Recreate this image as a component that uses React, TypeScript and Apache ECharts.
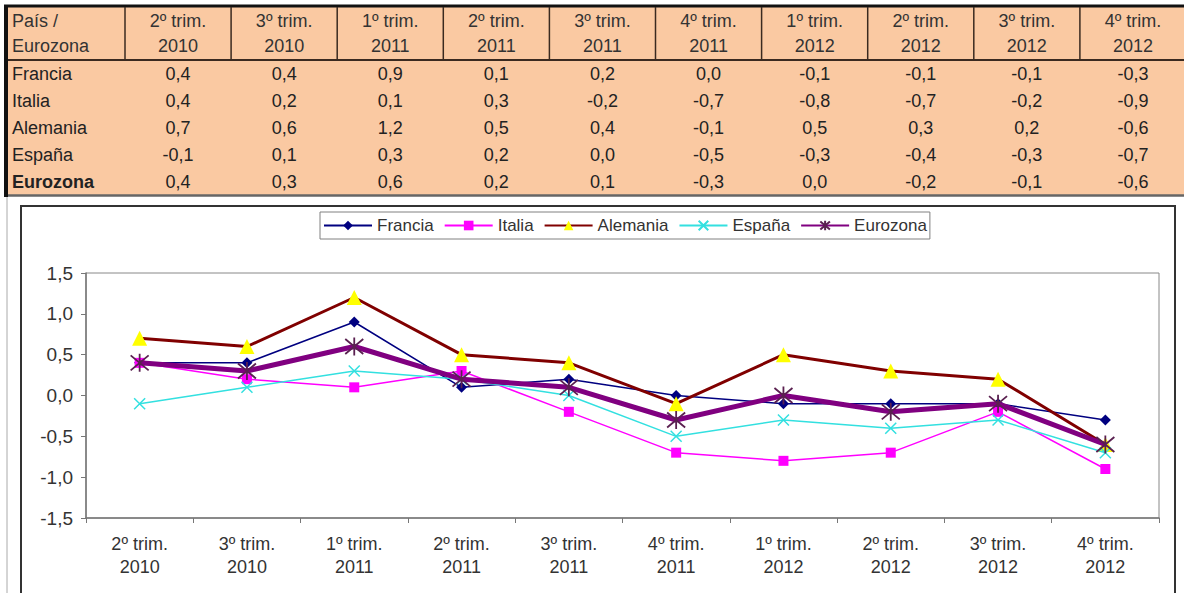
import React, { useEffect, useRef } from "react";
import * as echarts from "echarts";

const categories = [
  "2º trim.\n2010", "3º trim.\n2010", "1º trim.\n2011", "2º trim.\n2011", "3º trim.\n2011",
  "4º trim.\n2011", "1º trim.\n2012", "2º trim.\n2012", "3º trim.\n2012", "4º trim.\n2012",
];
const tableCorner = "País /\nEurozona";
const seriesNames = ["Francia", "Italia", "Alemania", "España", "Eurozona"];
const francia = [0.4, 0.4, 0.9, 0.1, 0.2, 0.0, -0.1, -0.1, -0.1, -0.3];
const italia = [0.4, 0.2, 0.1, 0.3, -0.2, -0.7, -0.8, -0.7, -0.2, -0.9];
const alemania = [0.7, 0.6, 1.2, 0.5, 0.4, -0.1, 0.5, 0.3, 0.2, -0.6];
const espana = [-0.1, 0.1, 0.3, 0.2, 0.0, -0.5, -0.3, -0.4, -0.3, -0.7];
const eurozona = [0.4, 0.3, 0.6, 0.2, 0.1, -0.3, 0.0, -0.2, -0.1, -0.6];
const yTicks = { min: -1.5, max: 1.5, interval: 0.5 };

const FONT = '"Liberation Sans", Arial, sans-serif';
const fmt = (v: number) => v.toFixed(1).replace(".", ",");

export default function App() {
  const ref = useRef<HTMLDivElement>(null);
  useEffect(() => {
    document.body.style.margin = "0";
    const chart = echarts.init(ref.current!, null, { renderer: "svg" });
    const allData = [francia, italia, alemania, espana, eurozona];

    // table graphic
    const colLeft = 125;
    const colW = 106.1;
    const rowY = [74, 101, 128, 155, 182];
    const g: any[] = [];
    g.push({ type: "rect", shape: { x: 8, y: 7, width: 1176, height: 189 }, style: { fill: "#FAC9A2" }, silent: true });
    g.push({ type: "line", shape: { x1: 4, y1: 6, x2: 1184, y2: 6 }, style: { stroke: "#111", lineWidth: 3 } });
    g.push({ type: "line", shape: { x1: 6, y1: 5, x2: 6, y2: 197 }, style: { stroke: "#111", lineWidth: 4 } });
    g.push({ type: "line", shape: { x1: 8, y1: 60, x2: 1184, y2: 60 }, style: { stroke: "#3a2a20", lineWidth: 2 } });
    g.push({ type: "line", shape: { x1: 8, y1: 195.5, x2: 1184, y2: 195.5 }, style: { stroke: "#666", lineWidth: 2.5 } });
    for (let k = 0; k < categories.length; k++) {
      const x = colLeft + colW * k;
      g.push({ type: "line", shape: { x1: x, y1: 7, x2: x, y2: 60 }, style: { stroke: "#3a2a20", lineWidth: 1.5 } });
      const [l1, l2] = categories[k].split("\n");
      const cx = x + colW / 2;
      g.push({ type: "text", x: cx, y: 21, style: { text: l1, fontSize: 18, fontFamily: FONT, fill: "#333", align: "center", verticalAlign: "middle" } });
      g.push({ type: "text", x: cx, y: 46, style: { text: l2, fontSize: 18, fontFamily: FONT, fill: "#333", align: "center", verticalAlign: "middle" } });
    }
    const [c1, c2] = tableCorner.split("\n");
    g.push({ type: "text", x: 12, y: 21, style: { text: c1, fontSize: 18, fontFamily: FONT, fill: "#333", align: "left", verticalAlign: "middle" } });
    g.push({ type: "text", x: 12, y: 46, style: { text: c2, fontSize: 18, fontFamily: FONT, fill: "#333", align: "left", verticalAlign: "middle" } });
    seriesNames.forEach((name, r) => {
      const bold = r === seriesNames.length - 1;
      g.push({ type: "text", x: 12, y: rowY[r], style: { text: name, fontSize: 18, fontWeight: bold ? "bold" : "normal", fontFamily: FONT, fill: "#222", align: "left", verticalAlign: "middle" } });
      allData[r].forEach((v, k) => {
        g.push({ type: "text", x: colLeft + colW * k + colW / 2, y: rowY[r], style: { text: fmt(v), fontSize: 18, fontFamily: FONT, fill: "#222", align: "center", verticalAlign: "middle" } });
      });
    });
    // chart frame
    g.push({ type: "line", shape: { x1: 7, y1: 197, x2: 7, y2: 593 }, style: { stroke: "#aaa", lineWidth: 1 } });
    g.push({ type: "rect", shape: { x: 21, y: 206, width: 1154, height: 420 }, style: { fill: "none", stroke: "#333", lineWidth: 2 }, z: -1 });

    const xStar = "path://M0,0L10,10M10,0L0,10";
    const asterisk = "path://M0,0L10,10M10,0L0,10M5,-1L5,11";
    const cfg = [
      { data: francia, line: "#000080", lw: 1.5, sym: "diamond", size: 11, fill: "#000080", stroke: "#000080", bw: 0 },
      { data: italia, line: "#FF00FF", lw: 1.5, sym: "rect", size: 10, fill: "#FF00FF", stroke: "#FF00FF", bw: 0 },
      { data: alemania, line: "#800000", lw: 3, sym: "triangle", size: 15, fill: "#FFFF00", stroke: "#FFFF00", bw: 0 },
      { data: espana, line: "#33E0E0", lw: 1.5, sym: xStar, size: 11, fill: "none", stroke: "#33E0E0", bw: 1.5 },
      { data: eurozona, line: "#800080", lw: 5, sym: asterisk, size: 18, fill: "none", stroke: "#5a2050", bw: 1.8 },
    ];

    chart.setOption({
      animation: false,
      backgroundColor: "#fff",
      graphic: g,
      legend: {
        left: 320,
        top: 212,
        padding: [5, 3, 5, 3],
        itemWidth: 48,
        itemHeight: 12,
        itemGap: 10,
        borderColor: "#808080",
        borderWidth: 1,
        backgroundColor: "#fff",
        textStyle: { fontSize: 17, fontFamily: FONT, color: "#333" },
        data: seriesNames,
      },
      grid: { left: 86, right: 25, top: 273, bottom: 75, show: true, borderColor: "#888", borderWidth: 1 },
      xAxis: {
        type: "category",
        data: categories,
        boundaryGap: true,
        axisLine: { onZero: false, lineStyle: { color: "#777", width: 1.5 } },
        axisTick: { show: true, length: 5, lineStyle: { color: "#777" } },
        axisLabel: { fontSize: 18, fontFamily: FONT, color: "#333", lineHeight: 23, margin: 14 },
        splitLine: { show: false },
      },
      yAxis: {
        type: "value",
        min: yTicks.min,
        max: yTicks.max,
        interval: yTicks.interval,
        axisLine: { show: true, lineStyle: { color: "#777", width: 1.5 } },
        axisTick: { show: true, length: 5, lineStyle: { color: "#777" } },
        axisLabel: { fontSize: 19, fontFamily: FONT, color: "#333", margin: 13, formatter: (v: number) => fmt(v) },
        splitLine: { show: false },
      },
      series: cfg.map((c, i) => ({
        name: seriesNames[i],
        type: "line",
        data: c.data,
        symbol: c.sym,
        symbolSize: c.size,
        showAllSymbol: true,
        lineStyle: { color: c.line, width: c.lw },
        itemStyle: { color: c.fill === "none" ? c.stroke : c.fill, borderColor: c.stroke, borderWidth: c.bw },
        z: 2 + i,
      })),
    });
    return () => chart.dispose();
  }, []);
  return <div ref={ref} style={{ width: 1184, height: 593 }} />;
}
